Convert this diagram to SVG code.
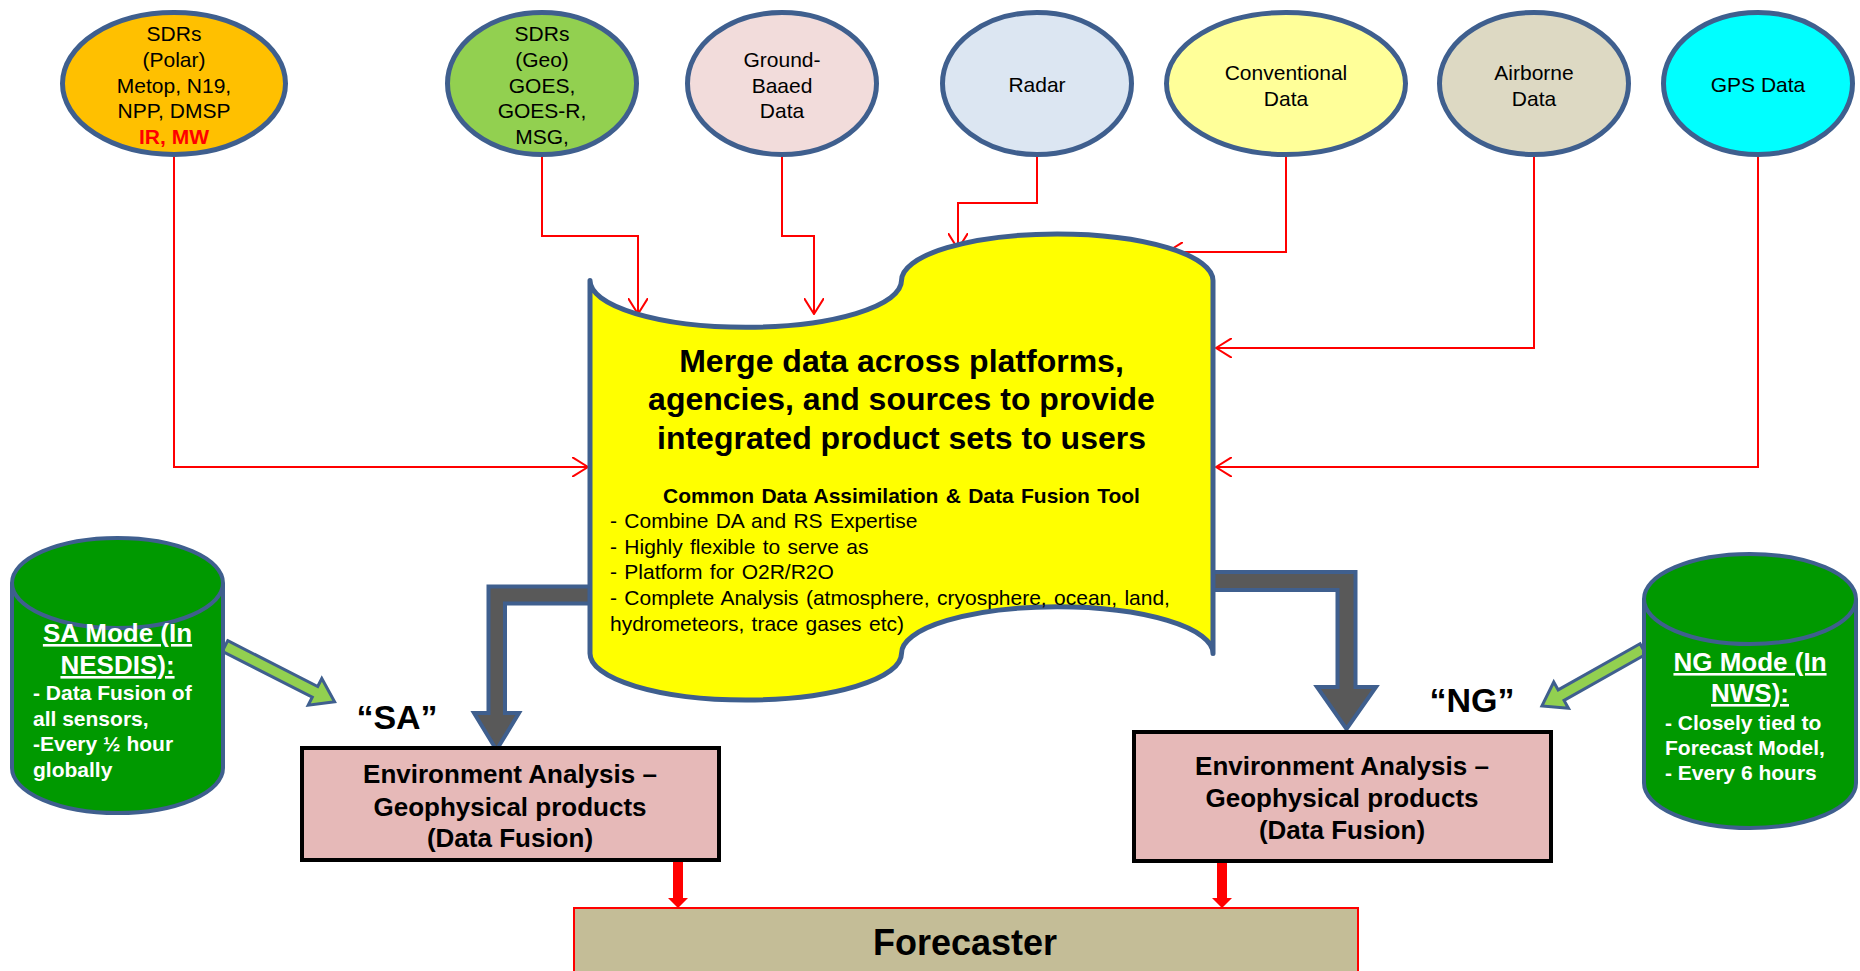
<svg xmlns="http://www.w3.org/2000/svg" width="1860" height="971" viewBox="0 0 1860 971">
<defs>
<style>
.src{stroke:#3F5F8E;stroke-width:5}
.t{font-family:"Liberation Sans",Arial,sans-serif;fill:#000}
.c{text-anchor:middle}
.s21{font-size:21px}
.b{font-weight:bold}
.ws{word-spacing:1.5px}
.red{fill:none;stroke:#FF0000;stroke-width:2}
.wt{fill:#fff}
.cyl{fill:#009900;stroke:#3F5F8E;stroke-width:4}
.ga{fill:#92D050;stroke:#3F5F8E;stroke-width:3}
.gray{fill:#595959;stroke:#3F5F8E;stroke-width:4;stroke-linejoin:miter}
.box{fill:#E6B9B8;stroke:#000;stroke-width:4}
.rb{fill:#FF0000}
</style>
<marker id="oa" viewBox="0 0 17 20" refX="16" refY="10" markerWidth="17" markerHeight="20" markerUnits="userSpaceOnUse" orient="auto">
<path d="M0,0 L16,10 L0,20" fill="none" stroke="#FF0000" stroke-width="2"/>
</marker>
</defs>
<rect width="1860" height="971" fill="#fff"/>

<g id="connectors">
<path class="red" marker-end="url(#oa)" d="M174,155 V467 H588"/>
<path class="red" marker-end="url(#oa)" d="M542,155 V236 H638 V314"/>
<path class="red" marker-end="url(#oa)" d="M782,155 V236 H814 V314"/>
<path class="red" marker-end="url(#oa)" d="M1037,155 V203 H958 V249"/>
<path class="red" marker-end="url(#oa)" d="M1286,155 V252 H1167"/>
<path class="red" marker-end="url(#oa)" d="M1534,155 V348 H1216"/>
<path class="red" marker-end="url(#oa)" d="M1758,155 V467 H1216"/>
<path class="gray" d="M600,586.5 H488.5 V713 H474 L496.5,750 L519,713 H505 V603.5 H600 Z"/>
<path class="gray" d="M1205,572 H1355.5 V687 H1376 L1346.5,729 L1317,687 H1337.5 V590 H1205 Z"/>
<path class="rb" d="M673,862 H683 V898 H688 L678,908 L668,898 H673 Z"/>
<path class="rb" d="M1217,862 H1227 V898 H1232 L1222,908 L1212,898 H1217 Z"/>
<path class="ga" transform="translate(225,646) rotate(27)" d="M0,-6 L101,-6 L101,-15 L123,0 L101,15 L101,6 L0,6 Z"/>
<path class="ga" transform="translate(1643,649) rotate(150.6)" d="M0,-6 L94,-6 L94,-15 L116,0 L94,15 L94,6 L0,6 Z"/>
</g>

<g id="n-polar">
<ellipse class="src" cx="174" cy="83.5" rx="111.5" ry="71" fill="#FFC000"/>
<text class="t c s21" x="174" y="40.5">SDRs</text>
<text class="t c s21" x="174" y="66.5">(Polar)</text>
<text class="t c s21" x="174" y="92.5">Metop, N19,</text>
<text class="t c s21" x="174" y="117.5">NPP, DMSP</text>
<text class="t c s21 b" x="174" y="143.5" style="fill:#FF0000">IR, MW</text>
</g>
<g id="n-geo">
<ellipse class="src" cx="542" cy="83.5" rx="94.5" ry="71" fill="#92D050"/>
<text class="t c s21" x="542" y="40.5">SDRs</text>
<text class="t c s21" x="542" y="66.5">(Geo)</text>
<text class="t c s21" x="542" y="92.5">GOES,</text>
<text class="t c s21" x="542" y="117.5">GOES-R,</text>
<text class="t c s21" x="542" y="143.5">MSG,</text>
</g>
<g id="n-ground">
<ellipse class="src" cx="782" cy="83.5" rx="94.5" ry="71" fill="#F2DCDB"/>
<text class="t c s21" x="782" y="66.5">Ground-</text>
<text class="t c s21" x="782" y="92.5">Baaed</text>
<text class="t c s21" x="782" y="117.5">Data</text>
</g>
<g id="n-radar">
<ellipse class="src" cx="1037" cy="83.5" rx="94.5" ry="71" fill="#DCE6F2"/>
<text class="t c s21" x="1037" y="91.5">Radar</text>
</g>
<g id="n-conv">
<ellipse class="src" cx="1286" cy="83.5" rx="119.5" ry="71" fill="#FFFF99"/>
<text class="t c s21" x="1286" y="79.5">Conventional</text>
<text class="t c s21" x="1286" y="105.5">Data</text>
</g>
<g id="n-air">
<ellipse class="src" cx="1534" cy="83.5" rx="94.5" ry="71" fill="#DDD9C3"/>
<text class="t c s21" x="1534" y="79.5">Airborne</text>
<text class="t c s21" x="1534" y="105.5">Data</text>
</g>
<g id="n-gps">
<ellipse class="src" cx="1758" cy="83.5" rx="94.5" ry="71" fill="#00FFFF"/>
<text class="t c s21" x="1758" y="91.5">GPS Data</text>
</g>

<g id="n-merge">
<path d="M590,280.6 A155.75,46.6 0 0 0 901.5,280.6 A155.75,46.6 0 0 1 1213,280.6 L1213,653.4 A155.75,46.6 0 0 0 901.5,653.4 A155.75,46.6 0 0 1 590,653.4 Z" fill="#FFFF00" stroke="#3F5F8E" stroke-width="5" stroke-linejoin="round"/>
<text class="t c b" x="901.5" y="371.5" font-size="32">Merge data across platforms,</text>
<text class="t c b" x="901.5" y="409.5" font-size="32">agencies, and sources to provide</text>
<text class="t c b" x="901.5" y="448.5" font-size="32">integrated product sets to users</text>
<text class="t c b s21 ws" x="901.5" y="502.5">Common Data Assimilation  &amp; Data Fusion Tool</text>
<text class="t s21 ws" x="610" y="527.5">- Combine DA and RS Expertise</text>
<text class="t s21 ws" x="610" y="553.5">- Highly flexible to serve as</text>
<text class="t s21 ws" x="610" y="578.5">- Platform for O2R/R2O</text>
<text class="t s21 ws" x="610" y="604.5">- Complete Analysis (atmosphere, cryosphere, ocean, land,</text>
<text class="t s21 ws" x="610" y="630.5">hydrometeors, trace gases etc)</text>
</g>

<g id="n-sa">
<path class="cyl" d="M12,583 L12,768 A105.5,45 0 0 0 223,768 L223,583 A105.5,45 0 0 0 12,583 Z"/>
<path class="cyl" d="M12,583 A105.5,45 0 0 0 223,583"/>
<text class="t c b wt" x="117.5" y="642" font-size="26" text-decoration="underline">SA Mode (In</text>
<text class="t c b wt" x="117.5" y="674" font-size="26" text-decoration="underline">NESDIS):</text>
<text class="t b wt s21" x="33" y="700">- Data Fusion of</text>
<text class="t b wt s21" x="33" y="726">all sensors,</text>
<text class="t b wt s21" x="33" y="751">-Every ½ hour</text>
<text class="t b wt s21" x="33" y="777">globally</text>
</g>
<g id="n-ng">
<path class="cyl" d="M1644,599 L1644,783 A106,45 0 0 0 1856,783 L1856,599 A106,45 0 0 0 1644,599 Z"/>
<path class="cyl" d="M1644,599 A106,45 0 0 0 1856,599"/>
<text class="t c b wt" x="1750" y="671" font-size="26" text-decoration="underline">NG Mode (In</text>
<text class="t c b wt" x="1750" y="702" font-size="26" text-decoration="underline">NWS):</text>
<text class="t b wt s21" x="1665" y="730">- Closely tied to</text>
<text class="t b wt s21" x="1665" y="755">Forecast Model,</text>
<text class="t b wt s21" x="1665" y="780">- Every 6 hours</text>
</g>

<g id="l-sa"><text class="t c b" x="397" y="729" font-size="34">“SA”</text></g>
<g id="l-ng"><text class="t c b" x="1472" y="712" font-size="34">“NG”</text></g>

<g id="n-env-sa">
<rect class="box" x="302" y="748" width="417" height="112"/>
<text class="t c b" x="510" y="782.5" font-size="26">Environment Analysis –</text>
<text class="t c b" x="510" y="815.5" font-size="26">Geophysical products</text>
<text class="t c b" x="510" y="846.5" font-size="26">(Data Fusion)</text>
</g>
<g id="n-env-ng">
<rect class="box" x="1134" y="732" width="417" height="129"/>
<text class="t c b" x="1342" y="774.5" font-size="26">Environment Analysis –</text>
<text class="t c b" x="1342" y="806.5" font-size="26">Geophysical products</text>
<text class="t c b" x="1342" y="838.5" font-size="26">(Data Fusion)</text>
</g>
<g id="n-forecaster">
<rect x="574" y="908" width="784" height="80" fill="#C4BD97" stroke="#FF0000" stroke-width="2"/>
<text class="t c b" x="965" y="955" font-size="36">Forecaster</text>
</g>
</svg>
